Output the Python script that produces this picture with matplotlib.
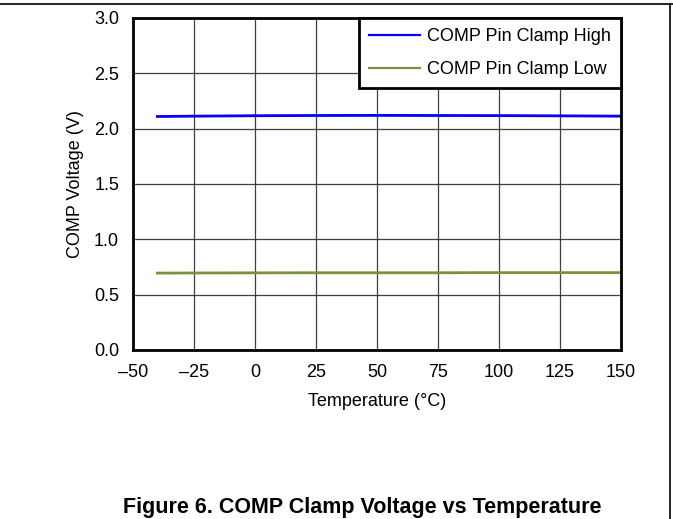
import matplotlib
matplotlib.use("Agg")
import matplotlib.pyplot as plt
from matplotlib.lines import Line2D

plt.rcParams['font.family'] = ['Liberation Sans', 'DejaVu Sans']

temps = [-40, -25, 0, 25, 50, 75, 100, 125, 150]
clamp_high = [2.11, 2.113, 2.117, 2.119, 2.12, 2.119, 2.118, 2.116, 2.113]
clamp_low = [0.695, 0.696, 0.697, 0.698, 0.698, 0.698, 0.699, 0.699, 0.699]
xticks = [-50, -25, 0, 25, 50, 75, 100, 125, 150]
xtick_labels = ['–50', '–25', '0', '25', '50', '75', '100', '125', '150']
yticks = [0.0, 0.5, 1.0, 1.5, 2.0, 2.5, 3.0]
ytick_labels = ['0.0', '0.5', '1.0', '1.5', '2.0', '2.5', '3.0']

fig = plt.figure(figsize=(6.73, 5.19), dpi=100)
ax = fig.add_axes([133/673, 1-350/519, (621-133)/673, (350-18)/519])

ax.plot(temps, clamp_high, color='#0000ff', lw=2, label='COMP Pin Clamp High')
ax.plot(temps, clamp_low, color='#77933c', lw=2, label='COMP Pin Clamp Low')

ax.set_xlim(-50, 150)
ax.set_ylim(0, 3.0)
ax.set_xticks(xticks)
ax.set_xticklabels(xtick_labels)
ax.set_yticks(yticks)
ax.set_yticklabels(ytick_labels)
ax.tick_params(length=0, labelsize=13, pad=10)
ax.grid(True, color='#404040', lw=0.9)
ax.set_axisbelow(True)
for s in ax.spines.values():
    s.set_linewidth(2)
    s.set_color('black')

ax.set_xlabel('Temperature (°C)', fontsize=13, labelpad=9)
ax.set_ylabel('COMP Voltage (V)', fontsize=13, labelpad=7)

leg = ax.legend(loc='upper right', fontsize=13, frameon=True, fancybox=False,
                edgecolor='black', framealpha=1, borderaxespad=0,
                handlelength=2.8, handletextpad=0.4, labelspacing=0.9,
                borderpad=0.55)
leg.get_frame().set_linewidth(2)
for h in leg.legend_handles:
    h.set_linewidth(1.6)

fig.text(362/673, 1-507/519, 'Figure 6. COMP Clamp Voltage vs Temperature',
         ha='center', va='center', fontsize=15.5, fontweight='bold')

fig.add_artist(Line2D([0, 1], [1-4/519, 1-4/519], transform=fig.transFigure, color='black', lw=1.2))
fig.add_artist(Line2D([670/673, 670/673], [0, 1-4/519], transform=fig.transFigure, color='black', lw=1.2))

fig.savefig('out.png', dpi=100)
